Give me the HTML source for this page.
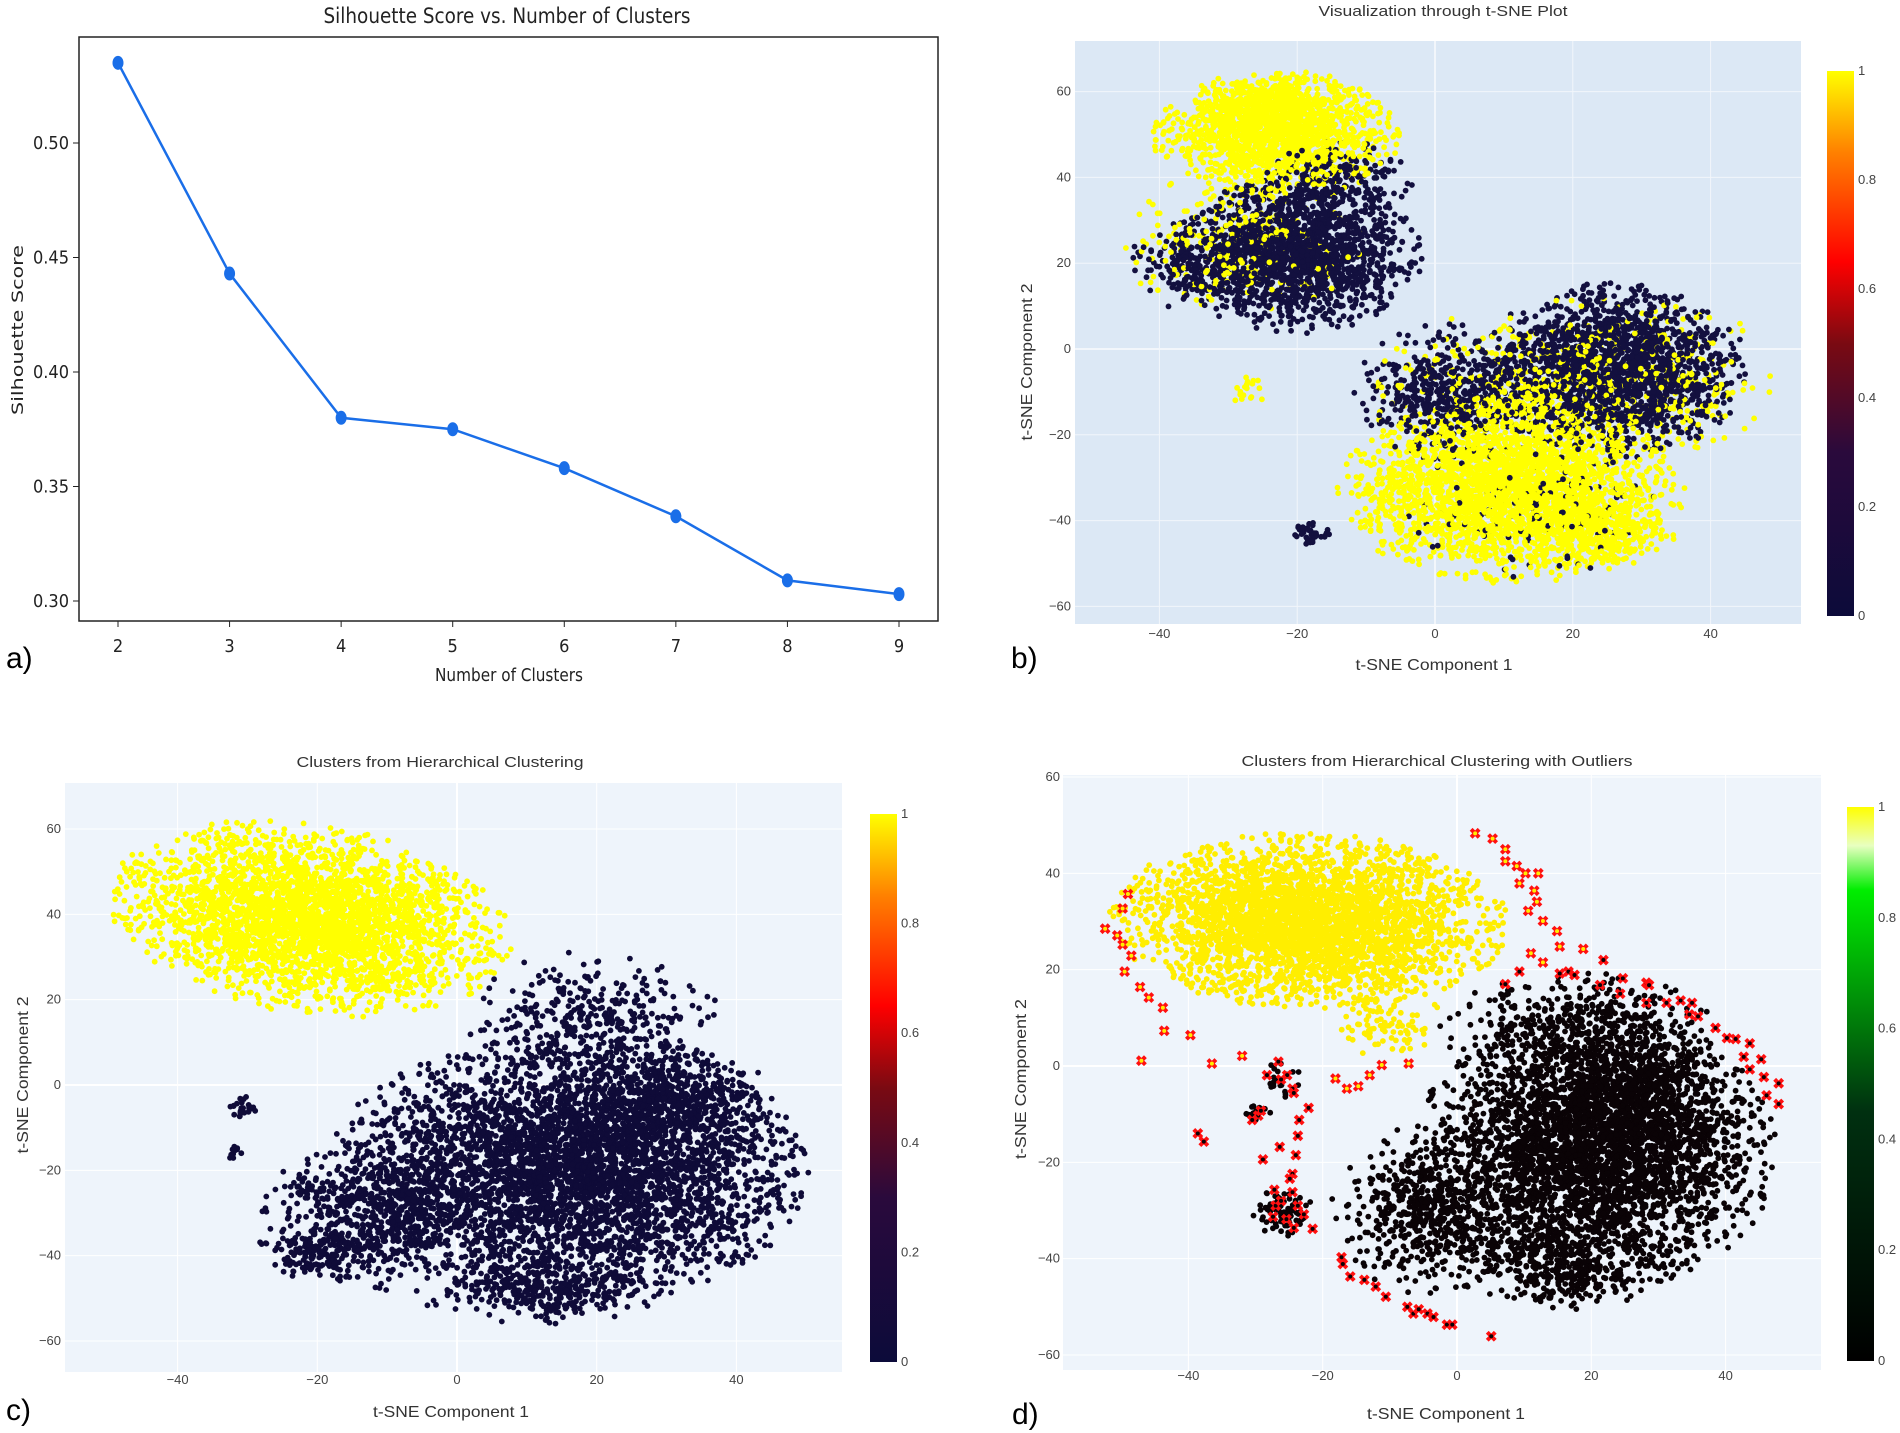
<!DOCTYPE html>
<html><head><meta charset="utf-8">
<style>
html,body{margin:0;padding:0;background:#fff;}
svg{display:block;}
text{font-family:"Liberation Sans",sans-serif;}
.mpl{font-family:"DejaVu Sans","Liberation Sans",sans-serif;font-stretch:condensed;fill:#222;}
.tk{font-size:13px;fill:#444;}
</style></head>
<body>
<svg id="fig" width="1900" height="1433" viewBox="0 0 1900 1433" xmlns="http://www.w3.org/2000/svg">
<defs>
<linearGradient id="hotGrad" x1="0" y1="1" x2="0" y2="0">
<stop offset="0" stop-color="#0c0b3a"/><stop offset="0.3" stop-color="#2a0a3c"/><stop offset="0.5" stop-color="#7a0a12"/><stop offset="0.65" stop-color="#ff0000"/><stop offset="0.85" stop-color="#ff8000"/><stop offset="1" stop-color="#ffff00"/>
</linearGradient>
<linearGradient id="grnGrad" x1="0" y1="1" x2="0" y2="0">
<stop offset="0" stop-color="#000000"/><stop offset="0.45" stop-color="#003010"/><stop offset="0.85" stop-color="#00ee00"/><stop offset="0.93" stop-color="#e8ffc0"/><stop offset="1" stop-color="#ffff00"/>
</linearGradient>
<clipPath id="clipB"><rect x="1075" y="41" width="726" height="583"/></clipPath>
<clipPath id="clipC"><rect x="65" y="783" width="777" height="589"/></clipPath>
<clipPath id="clipD"><rect x="1063" y="775" width="758" height="595"/></clipPath>
</defs>

<!-- Panel a -->
<g>
<text class="mpl" x="507" y="23" font-size="21" text-anchor="middle" textLength="367" lengthAdjust="spacingAndGlyphs">Silhouette Score vs. Number of Clusters</text>
<rect x="79" y="37" width="859" height="584" fill="#fff" stroke="#222" stroke-width="1.5"/>
<g id="aAxes"></g>
<g id="aMarks"></g>
<text class="mpl" x="509" y="681" font-size="18" text-anchor="middle" textLength="148" lengthAdjust="spacingAndGlyphs">Number of Clusters</text>
<text class="mpl" transform="translate(23,330) rotate(-90)" font-size="16" text-anchor="middle" textLength="170" lengthAdjust="spacingAndGlyphs" style="font-stretch:normal">Silhouette Score</text>
<text x="6" y="668" font-size="30">a)</text>
</g>

<!-- Panel b -->
<g>
<text x="1443" y="16" font-size="15" fill="#333" text-anchor="middle" textLength="249" lengthAdjust="spacingAndGlyphs">Visualization through t-SNE Plot</text>
<rect x="1075" y="41" width="726" height="583" fill="#dce8f5"/>
<g id="bGrid"></g>
<g id="bPts" clip-path="url(#clipB)"></g>
<rect x="1827" y="71" width="27" height="545" fill="url(#hotGrad)"/>
<g id="bCb"></g>
<text x="1434" y="670" font-size="16" fill="#333" text-anchor="middle" textLength="157" lengthAdjust="spacingAndGlyphs">t-SNE Component 1</text>
<text transform="translate(1032,362) rotate(-90)" font-size="16" fill="#333" text-anchor="middle" textLength="157" lengthAdjust="spacingAndGlyphs">t-SNE Component 2</text>
<text x="1011" y="668" font-size="30">b)</text>
</g>

<!-- Panel c -->
<g>
<text x="440" y="767" font-size="15" fill="#333" text-anchor="middle" textLength="287" lengthAdjust="spacingAndGlyphs">Clusters from Hierarchical Clustering</text>
<rect x="65" y="783" width="777" height="589" fill="#eef4fb"/>
<g id="cGrid"></g>
<g id="cPts" clip-path="url(#clipC)"></g>
<rect x="870" y="814" width="27" height="548" fill="url(#hotGrad)"/>
<g id="cCb"></g>
<text x="451" y="1417" font-size="16" fill="#333" text-anchor="middle" textLength="156" lengthAdjust="spacingAndGlyphs">t-SNE Component 1</text>
<text transform="translate(28,1075) rotate(-90)" font-size="16" fill="#333" text-anchor="middle" textLength="157" lengthAdjust="spacingAndGlyphs">t-SNE Component 2</text>
<text x="6" y="1420" font-size="30">c)</text>
</g>

<!-- Panel d -->
<g>
<text x="1437" y="766" font-size="15" fill="#333" text-anchor="middle" textLength="391" lengthAdjust="spacingAndGlyphs">Clusters from Hierarchical Clustering with Outliers</text>
<rect x="1063" y="775" width="758" height="595" fill="#eef4fb"/>
<g id="dGrid"></g>
<g id="dPts" clip-path="url(#clipD)"></g>
<rect x="1847" y="807" width="27" height="554" fill="url(#grnGrad)"/>
<g id="dCb"></g>
<text x="1446" y="1419" font-size="16" fill="#333" text-anchor="middle" textLength="158" lengthAdjust="spacingAndGlyphs">t-SNE Component 1</text>
<text transform="translate(1026,1079) rotate(-90)" font-size="16" fill="#333" text-anchor="middle" textLength="160" lengthAdjust="spacingAndGlyphs">t-SNE Component 2</text>
<text x="1012" y="1424" font-size="30">d)</text>
</g>
</svg>

<script>
// ---------- Panel a data ----------
const clusterCounts = [2, 3, 4, 5, 6, 7, 8, 9];
const silhouetteScores = [0.535, 0.443, 0.380, 0.375, 0.358, 0.337, 0.309, 0.303];
const aYTicks = [0.30, 0.35, 0.40, 0.45, 0.50];
const aYTickLabels = ["0.30", "0.35", "0.40", "0.45", "0.50"];

// ---------- Scatter cluster data (data coords) ----------
// Panel b
const bCx = [-23, -20, -28, -14, 26, 2, 11, 24, 28, 10, -18, -27, 14, -24, -35];
const bCy = [50, 22, 25, 40, -5, -10, -33, -43, -8, -14, -43, -10, -36, 57, 20];
const bSx = [8, 8, 8, 5, 8.5, 6, 11, 5, 9, 9, 1.3, 1, 9, 4, 4];
const bSy = [6.5, 8, 8, 4, 9, 7, 9.5, 4, 10, 10, 1.3, 2, 8, 3, 5];
const bN = [1400, 1700, 260, 200, 1900, 500, 2500, 300, 350, 400, 40, 18, 130, 220, 180];
const bVal = [1, 0, 1, 0, 0, 0, 1, 1, 1, 1, 0, 1, 0, 1, 0];
// Panel c
const cCx = [-21, 16, 20, -12, 12, -31, -32, -22, 30, -20];
const cCy = [39, -20, 14, -30, -48, -5, -16, -24, -5, -40];
const cSx = [13, 15, 8, 7, 8, 1, 1, 1.5, 7, 4];
const cSy = [9.5, 14, 8, 8, 3.5, 1.5, 1, 1.5, 6, 3];
const cRot = [-22, 0, 0, 0, 0, 0, 0, 0, 0, 0];
const cN = [3100, 4300, 400, 600, 300, 25, 12, 15, 500, 150];
const cVal = [1, 0, 0, 0, 0, 0, 0, 0, 0, 0];
// Panel d
const dCx = [-22, 20, 18, -26, -26, -30, -10, 28, 15, -5];
const dCy = [30, -18, 8, -30, -3, -10, 8, -6, -42, -30];
const dSx = [13, 12, 9, 2, 1.2, 1, 4, 7, 7, 6];
const dSy = [8, 13, 5, 2.5, 2, 1, 3, 6, 4, 8];
const dRot = [-3, 0, 0, 0, 0, 0, 0, 0, 0, 0];
const dN = [3300, 3600, 400, 80, 25, 12, 80, 500, 300, 500];
const dVal = [1, 0, 0, 0, 0, 0, 1, 0, 0, 0];
// Outliers in d
const outX = [-49,-49.8,-52.4,-50.6,-49.8,-48.5,-49.5,-47.2,-45.9,-43.8,-43.6,-39.7,-47,-36.5,-32,
 2.7,5.3,7.2,7.2,8.9,10.2,12.1,9.3,11.5,11.9,10.6,12.8,14.9,15.3,18.8,11,12.8,
 9.3,15.3,16.6,17.5,21.8,21.3,24.7,24.3,28.2,28.6,28.2,31.2,33.3,35,34.6,35.9,38.5,40.2,41.5,43.6,42.7,45.3,43.6,45.7,47.9,46.1,47.9,7.2,
 -18.1,-16.4,-14.7,-13,-11.2,-7.2,
 -26.6,-25.3,-26.2,-24.5,-24.3,-28.3,-29.6,-30.5,-29.2,-22.1,-23.5,-23.7,-38.6,-37.7,-26.4,-24,-28.9,-24.5,-24.9,-27.2,-27,-26.2,-24.5,-23.7,-22.8,-25.4,-24.3,-21.5,-27.4,
 -17.2,-17,-15.9,-13.8,-12.1,-10.6,-7.4,-6.5,-5.7,-4.4,-3.5,-1.5,-0.7,5.1];
const outY = [35.7,32.7,28.5,27.1,25.2,22.9,19.6,16.4,14.2,12.1,7.3,6.4,1.1,0.5,2.1,
 48.3,47.2,45,42.5,41.5,40,40,37.9,36.4,34.1,32.2,30.1,28,24.8,24.3,23.4,21.5,
 19.6,19.2,19.6,18.9,22,16.8,18.2,15,17.3,16.8,13.1,13.1,13.6,13.1,10.7,10.3,7.9,5.8,5.6,4.7,1.9,1.4,-0.7,-2.3,-3.6,-6.1,-7.9,17,
 -2.6,-4.7,-4.2,-1.9,0.2,0.5,
 0.9,-1.9,-2.8,-4.7,-5.6,-1.9,-10.3,-11.2,-9.3,-8.7,-11.2,-14.5,-14,-15.7,-16.8,-18.5,-19.4,-22.4,-23.4,-25.7,-29,-28,-26.2,-29,-30.8,-31.8,-33.6,-33.8,-31.3,
 -39.7,-41.1,-43.7,-44.4,-45.8,-47.9,-50,-51.4,-50.5,-51.4,-52.1,-53.7,-53.7,-56.1];
const outVal = [1,1,1,1,1,1,1,1,1,1,1,1,1,1,1, 1,1,1,1,1,1,1,1,1,1,1,1,1,1,1,1,1,
 0,0,0,0,0,0,0,0,0,0,0,0,0,0,0,0,0,0,0,0,0,0,0,0,0,0,0,0,
 1,1,1,1,1,1, 0,0,0,0,0,0,0,0,0,0,0,0,0,0,0,0,0,0,0,0,0,0,0,0,0,0,0,0,0,
 0,0,0,0,0,0,0,0,0,0,0,0,0,0];

const tsneXTicks = [-40, -20, 0, 20, 40];
const tsneYTicks = [-60, -40, -20, 0, 20, 40, 60];
const cbTicks = [0, 0.2, 0.4, 0.6, 0.8, 1];
const cbTickLabels = ["0", "0.2", "0.4", "0.6", "0.8", "1"];

const NS = "http://www.w3.org/2000/svg";
function mk(tag, attrs, parent) {
  const e = document.createElementNS(NS, tag);
  for (const k in attrs) e.setAttribute(k, attrs[k]);
  parent.appendChild(e);
  return e;
}
function $(id) { return document.getElementById(id); }

// ---------- Panel a ----------
const aX = v => 118 + (v - 2) * 111.57;
const aY = v => 601 - (v - 0.30) * 2290;
(function () {
  const g = $('aAxes');
  clusterCounts.forEach(c => {
    const l = mk('line', {x1: aX(c), x2: aX(c), y1: 621, y2: 627, stroke: '#222'}, g);
    
    
    const t = mk('text', {x: aX(c), y: 652, 'font-size': 18, 'text-anchor': 'middle', class: 'mpl'}, g);
    t.textContent = String(c);
    
    
  });
  aYTicks.forEach((v, i) => {
    const l = mk('line', {x1: 73, x2: 79, y1: aY(v), y2: aY(v), stroke: '#222'}, g);
    
    
    const t = mk('text', {x: 69, y: aY(v) + 6, 'font-size': 18, 'text-anchor': 'end', class: 'mpl'}, g);
    t.textContent = aYTickLabels[i];
    
    
  });
  const m = $('aMarks');
  const pts = clusterCounts.map((c, i) => aX(c) + ',' + aY(silhouetteScores[i])).join(' ');
  const pl = mk('polyline', {points: pts, fill: 'none', stroke: '#1a6ee8', 'stroke-width': 2.5}, m);
  
  
  clusterCounts.forEach((c, i) => {
    const p = mk('ellipse', {cx: aX(c), cy: aY(silhouetteScores[i]), rx: 5.5, ry: 7, fill: '#1a6ee8'}, m);
    
    
  });
})();

// ---------- Scatter helpers ----------
function rng(seed) {
  return function () {
    seed |= 0; seed = seed + 0x6D2B79F5 | 0;
    let t = Math.imul(seed ^ seed >>> 15, 1 | seed);
    t = t + Math.imul(t ^ t >>> 7, 61 | t) ^ t;
    return ((t ^ t >>> 14) >>> 0) / 4294967296;
  };
}
function genPoints(cx, cy, sx, sy, rot, n, val, seed) {
  const r = rng(seed);
  const out = [];
  for (let k = 0; k < cx.length; k++) {
    const a = (rot ? rot[k] : 0) * Math.PI / 180;
    for (let i = 0; i < n[k]; i++) {
      let rad;
      do { rad = Math.sqrt(-2 * Math.log(r() + 1e-12)); } while (rad > 2.3);
      const th = 2 * Math.PI * r();
      const u = rad * Math.cos(th) * sx[k], w = rad * Math.sin(th) * sy[k];
      out.push([cx[k] + u * Math.cos(a) - w * Math.sin(a), cy[k] + u * Math.sin(a) + w * Math.cos(a), val[k]]);
    }
  }
  return out;
}
function drawGrid(gid, xs, ys, x0, x1, y0, y1, color, tickRightX, tickY) {
  const g = $(gid);
  tsneXTicks.forEach(v => {
    const l = mk('line', {x1: xs(v), x2: xs(v), y1: y0, y2: y1, stroke: color, 'stroke-width': v === 0 ? 2 : 1}, g);
    
    
    const t = mk('text', {x: xs(v), y: tickY, 'text-anchor': 'middle', class: 'tk'}, g);
    t.textContent = v < 0 ? '\u2212' + (-v) : String(v);
    
    
  });
  tsneYTicks.forEach(v => {
    const l = mk('line', {x1: x0, x2: x1, y1: ys(v), y2: ys(v), stroke: color, 'stroke-width': v === 0 ? 2 : 1}, g);
    
    
    const t = mk('text', {x: tickRightX, y: ys(v) + 4, 'text-anchor': 'end', class: 'tk'}, g);
    t.textContent = v < 0 ? '\u2212' + (-v) : String(v);
    
    
  });
}
function drawCb(gid, x, top, bottom) {
  const g = $(gid);
  cbTicks.forEach((v, i) => {
    const t = mk('text', {x: x, y: bottom - v * (bottom - top) + 4, class: 'tk', 'font-size': 12}, g);
    t.textContent = cbTickLabels[i];
    
    
  });
}
function drawPts(gid, pts, xs, ys, colors, name) {
  const g = $(gid);
  pts.forEach(p => {
    const c = mk('circle', {cx: xs(p[0]).toFixed(1), cy: ys(p[1]).toFixed(1), r: 2.9, fill: colors[p[2]]}, g);
    
    
  });
}

// ---------- Panel b ----------
const bX = v => 1435 + v * 6.89, bY = v => 349 - v * 4.29;
drawGrid('bGrid', bX, bY, 1075, 1801, 41, 624, '#f2f6fb', 1071, 638);
(function () {
  const pts = genPoints(bCx, bCy, bSx, bSy, null, bN, bVal, 11);
  const r = rng(99);
  for (let i = pts.length - 1; i > 0; i--) { const j = Math.floor(r() * (i + 1)); [pts[i], pts[j]] = [pts[j], pts[i]]; }
  drawPts('bPts', pts, bX, bY, ['#13103f', '#ffff00'], 'tsne-point');
})();
drawCb('bCb', 1858, 71, 616);

// ---------- Panel c ----------
const cX = v => 457 + v * 6.985, cY = v => 1085 - v * 4.267;
drawGrid('cGrid', cX, cY, 65, 842, 783, 1372, '#ffffff', 61, 1384);
drawPts('cPts', genPoints(cCx, cCy, cSx, cSy, cRot, cN, cVal, 23), cX, cY, ['#0f0b38', '#ffff00'], 'cluster-point');
drawCb('cCb', 901, 814, 1362);

// ---------- Panel d ----------
const dX = v => 1457 + v * 6.715, dY = v => 1066 - v * 4.817;
drawGrid('dGrid', dX, dY, 1063, 1821, 775, 1370, '#ffffff', 1060, 1380);
drawPts('dPts', genPoints(dCx, dCy, dSx, dSy, dRot, dN, dVal, 37), dX, dY, ['#0a0306', '#ffee00'], 'cluster-point');
(function () {
  const g = $('dPts');
  outX.forEach((v, i) => {
    const x = dX(v), y = dY(outY[i]);
    const p = mk('path', {d: `M${x-4},${y-4}L${x+4},${y+4}M${x-4},${y+4}L${x+4},${y-4}`, stroke: '#ff1010', 'stroke-width': 4, fill: 'none'}, g);
    
    
    const c = mk('circle', {cx: x, cy: y, r: 2, fill: outVal[i] ? '#ffee00' : '#0a0306'}, g);
    
    
  });
})();
drawCb('dCb', 1878, 807, 1361);
</script>
</body></html>
